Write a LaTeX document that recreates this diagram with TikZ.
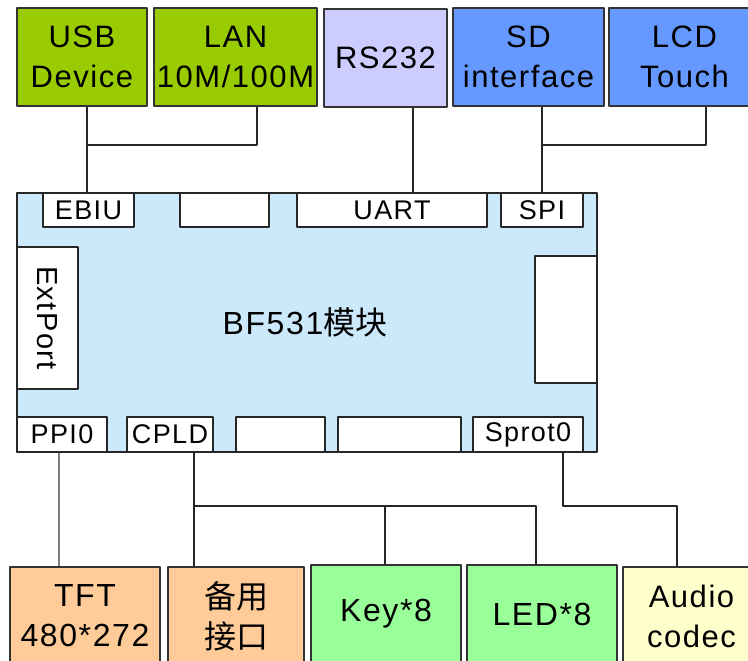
\documentclass[tikz,border=0pt]{standalone}
\usepackage{fontspec}
\setmainfont[LetterSpace=5]{Liberation Sans}
\newfontfamily\cjk{Noto Sans CJK SC}
\definecolor{usbgreen}{HTML}{99CC00}
\definecolor{rslilac}{HTML}{CCCCFF}
\definecolor{sdblue}{HTML}{6699FF}
\definecolor{coreblue}{HTML}{CCE9FC}
\definecolor{tftorange}{HTML}{FFCC99}
\definecolor{keygreen}{HTML}{99FF99}
\definecolor{audioyellow}{HTML}{FFFFCC}
\begin{document}
\begin{tikzpicture}[x=1pt,y=-1pt, line join=round,
	unit/.style={draw=black!80, line width=1.3pt, inner sep=0pt, align=center, minimum height=98pt, font=\fontsize{31}{40}\selectfont},
	port/.style={draw=black!85, fill=white, line width=1.3pt, inner sep=0pt, minimum height=34pt, font=\fontsize{27}{30}\selectfont},
	wire/.style={line width=1.3pt, black!85}]
	\clip (0,0) rectangle (748,661);
	% peripherals on top
	\node[unit, fill=usbgreen, minimum width=130pt] (usb) at (82,57) {USB\\Device};
	\node[unit, fill=usbgreen, minimum width=163pt] (lan) at (235.5,57) {LAN\\10M/100M};
	\node[unit, fill=rslilac, minimum width=123pt] (rs) at (385.5,58) {RS232};
	\node[unit, fill=sdblue, minimum width=151pt] (sd) at (528.5,57) {SD\\interface};
	\node[unit, fill=sdblue, minimum width=151pt] (lcd) at (684.5,57) {LCD\\Touch};
	% core module
	\node[draw=black!85, line width=1.3pt, fill=coreblue, minimum width=580pt, minimum height=259pt, inner sep=0pt] (core) at (307,322.5) {};
	\node[font=\fontsize{32}{36}\selectfont] (name) at (305,322) {BF531{\cjk 模块}};
	\node[port, minimum width=91pt] (ebiu) at (88.5,210) {EBIU};
	\node[port, minimum width=89pt] (free1) at (224.5,210) {};
	\node[port, minimum width=190pt] (uart) at (392,210) {UART};
	\node[port, minimum width=82pt] (spi) at (542,210) {SPI};
	\node[port, minimum width=61pt, minimum height=142pt] (ext) at (47.5,318) {};
	\node[font=\fontsize{29}{30}\selectfont, rotate=-90] (exttext) at (ext) {ExtPort};
	\node[port, minimum width=62pt, minimum height=127pt] (free2) at (566,319.5) {};
	\node[port, minimum width=90pt, minimum height=35pt] (ppi) at (62,434.5) {PPI0};
	\node[port, minimum width=86pt, minimum height=35pt] (cpld) at (170,434.5) {CPLD};
	\node[port, minimum width=89pt, minimum height=35pt] (free3) at (280.5,434.5) {};
	\node[port, minimum width=123pt, minimum height=35pt] (free4) at (399.5,434.5) {};
	\node[port, minimum width=110pt, minimum height=35pt] (sprot) at (528,434.5) {Sprot0};
	% devices below
	\node[unit, fill=tftorange, minimum width=150pt, font=\fontsize{32}{40}\selectfont] (tft) at (85,616) {TFT\\480*272};
	\node[unit, fill=tftorange, minimum width=136pt, font=\fontsize{32}{40}\selectfont\cjk] (spare) at (236,616) {备用\\接口};
	\node[unit, fill=keygreen, minimum width=150pt, font=\fontsize{32}{40}\selectfont] (key) at (386,614) {Key*8};
	\node[unit, fill=keygreen, minimum width=150pt, font=\fontsize{32}{40}\selectfont] (led) at (542,614) {LED*8};
	\node[unit, fill=audioyellow, minimum width=137pt, font=\fontsize{31}{40}\selectfont] (audio) at (691.5,616) {Audio\\codec};
	% junctions
	\coordinate (ja) at (87,145);
	\coordinate (jb) at (257,145);
	\coordinate (jr) at (413,145);
	\coordinate (jc) at (542,145);
	\coordinate (jd) at (706,145);
	\coordinate (jt) at (59,506);
	\coordinate (je) at (194,506);
	\coordinate (jf) at (385,506);
	\coordinate (jg) at (536,506);
	\coordinate (jh) at (563,506);
	\coordinate (ji) at (677,506);
	\draw[wire] (usb.south -| ja) -- (ebiu.north -| ja);
	\draw[wire] (lan.south -| jb) -- (jb) -- (ja);
	\draw[wire] (rs.south -| jr) -- (uart.north -| jr);
	\draw[wire] (sd.south -| jc) -- (spi.north -| jc);
	\draw[wire] (lcd.south -| jd) -- (jd) -- (jc);
	\draw[wire, gray, line width=1.6pt] (ppi.south -| jt) -- (tft.north -| jt);
	\draw[wire] (cpld.south -| je) -- (spare.north -| je);
	\draw[wire] (je) -- (jg) -- (led.north -| jg);
	\draw[wire] (jf) -- (key.north -| jf);
	\draw[wire] (sprot.south -| jh) -- (jh) -- (ji) -- (audio.north -| ji);
\end{tikzpicture}
\end{document}
